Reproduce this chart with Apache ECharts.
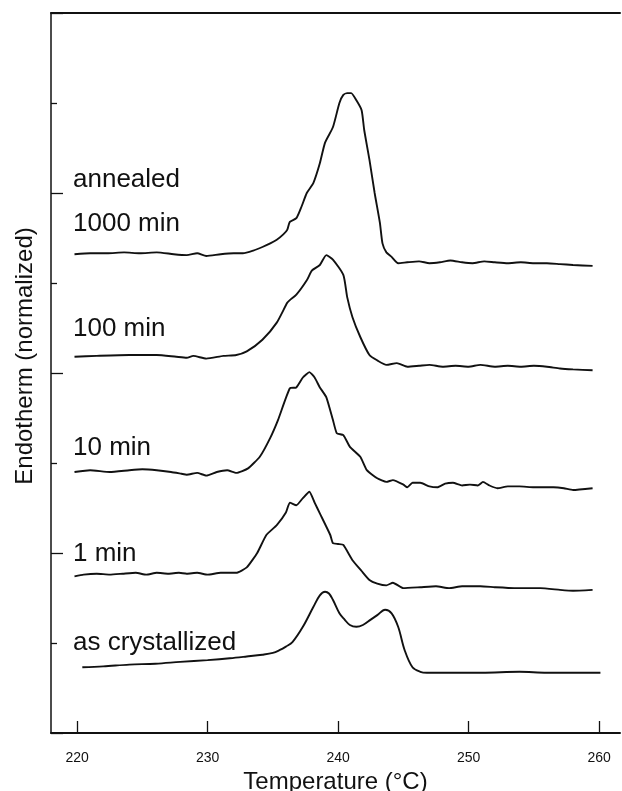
<!DOCTYPE html>
<html>
<head>
<meta charset="utf-8">
<script src="https://cdn.jsdelivr.net/npm/echarts@6/dist/echarts.min.js"></script>
<style>
  html, body { margin: 0; padding: 0; background: #fff; }
  #chart { width: 622px; height: 791px; }
</style>
</head>
<body>
<div id="chart"></div>
<script>
// [temperature (°C), endotherm (offset, normalized)]
var asCrystallized = [[220.4,0.73],[222.0,0.74],[224.0,0.76],[226.0,0.77],[227.9,0.79],[230.0,0.81],[231.7,0.83],[233.0,0.85],[234.2,0.87],[235.0,0.89],[235.5,0.92],[236.0,0.96],[236.5,1.01],[237.3,1.18],[238.1,1.40],[238.6,1.53],[239.0,1.57],[239.3,1.55],[239.6,1.48],[240.1,1.33],[240.5,1.26],[240.9,1.20],[241.4,1.18],[241.9,1.20],[242.5,1.26],[243.0,1.31],[243.6,1.37],[244.1,1.33],[244.6,1.18],[245.1,0.92],[245.7,0.73],[246.3,0.68],[246.8,0.67],[248.8,0.67],[251.0,0.67],[253.9,0.68],[256.0,0.67],[258.0,0.67],[260.1,0.67]]

var min1 = [[219.8,1.74],[220.5,1.76],[221.5,1.77],[222.5,1.76],[223.5,1.77],[224.5,1.78],[225.3,1.76],[226.1,1.78],[227.0,1.77],[227.8,1.78],[228.4,1.77],[229.2,1.78],[230.0,1.76],[231.0,1.78],[232.2,1.78],[233.0,1.84],[233.8,2.00],[234.5,2.20],[235.3,2.31],[236.0,2.45],[236.3,2.56],[236.8,2.53],[237.3,2.61],[237.8,2.68],[238.2,2.56],[238.6,2.44],[239.4,2.20],[239.6,2.11],[240.0,2.10],[240.4,2.09],[241.1,1.92],[241.8,1.80],[242.4,1.70],[243.0,1.66],[243.7,1.64],[244.2,1.67],[245.0,1.61],[246.3,1.62],[247.5,1.63],[248.5,1.61],[249.5,1.63],[250.9,1.63],[252.0,1.62],[253.5,1.61],[255.5,1.61],[257.0,1.59],[258.0,1.58],[259.5,1.59]]

var min10 = [[219.8,2.90],[221.0,2.92],[222.5,2.90],[224.0,2.92],[225.0,2.93],[226.1,2.92],[227.2,2.90],[228.0,2.88],[228.4,2.87],[229.2,2.89],[229.9,2.86],[230.7,2.90],[231.5,2.92],[232.2,2.89],[233.1,2.94],[234.0,3.07],[234.8,3.28],[235.4,3.48],[236.3,3.83],[236.8,3.84],[237.3,3.95],[237.8,4.01],[238.2,3.95],[238.6,3.84],[239.1,3.73],[239.6,3.48],[239.9,3.33],[240.4,3.31],[240.9,3.18],[241.7,3.07],[242.2,2.92],[243.0,2.83],[243.7,2.79],[244.2,2.81],[245.0,2.76],[245.3,2.73],[245.7,2.78],[246.3,2.78],[247.0,2.74],[247.6,2.73],[248.2,2.77],[248.8,2.78],[249.5,2.75],[250.1,2.76],[250.7,2.75],[251.1,2.79],[251.6,2.75],[252.2,2.72],[253.0,2.74],[253.9,2.74],[255.0,2.73],[256.5,2.73],[257.3,2.72],[258.0,2.70],[259.5,2.72]]

var min100 = [[219.8,4.18],[221.5,4.19],[224.0,4.20],[226.1,4.20],[227.6,4.18],[228.4,4.17],[228.9,4.19],[229.9,4.16],[231.2,4.19],[232.2,4.20],[233.0,4.24],[234.2,4.37],[235.3,4.56],[236.1,4.78],[236.3,4.81],[236.8,4.87],[237.6,5.03],[238.0,5.14],[238.6,5.20],[239.1,5.31],[239.6,5.26],[240.4,5.09],[240.7,4.84],[241.1,4.62],[241.7,4.40],[242.4,4.20],[243.0,4.14],[243.7,4.09],[244.5,4.11],[245.3,4.07],[246.2,4.08],[247.0,4.09],[248.0,4.07],[249.0,4.08],[250.0,4.07],[250.9,4.09],[252.0,4.07],[253.0,4.08],[254.0,4.07],[255.0,4.08],[256.0,4.07],[257.0,4.05],[258.0,4.04],[259.5,4.03]]

var min1000 = [[219.8,5.32],[221.0,5.33],[222.3,5.33],[223.6,5.34],[224.8,5.33],[226.1,5.34],[227.4,5.32],[228.4,5.31],[229.2,5.33],[229.9,5.30],[231.0,5.32],[232.0,5.33],[232.7,5.33],[233.5,5.36],[234.2,5.40],[234.8,5.44],[235.3,5.48],[235.8,5.54],[236.1,5.59],[236.3,5.68],[236.8,5.72],[237.2,5.85],[237.6,6.00],[238.1,6.11],[238.6,6.33],[239.0,6.56],[239.6,6.73],[240.1,7.00],[240.4,7.09],[240.7,7.11],[241.0,7.11],[241.4,7.03],[241.8,6.92],[242.0,6.70],[242.4,6.37],[242.8,6.00],[243.2,5.67],[243.4,5.44],[243.7,5.34],[244.1,5.29],[244.6,5.22],[245.3,5.23],[246.2,5.24],[247.0,5.22],[247.8,5.23],[248.6,5.25],[249.5,5.23],[250.3,5.22],[251.2,5.24],[252.0,5.23],[253.0,5.22],[254.0,5.23],[255.0,5.22],[256.0,5.22],[257.0,5.21],[258.0,5.20],[259.5,5.19]]

var xTicks = [220, 230, 240, 250, 260]
var curveLabels = ['annealed', '1000 min', '100 min', '10 min', '1 min', 'as crystallized']

var font = 'Liberation Sans, Arial, Helvetica, sans-serif'
var chart = echarts.init(document.getElementById('chart'))

function curve (data, smooth) {
  return {
    type: 'line',
    data: data,
    smooth: smooth,
    showSymbol: false,
    silent: true,
    lineStyle: { color: '#111', width: 1.9 },
    itemStyle: { color: '#111' }
  }
}

// label y positions (middle of text line), pixels
var labelY = [180, 224, 329, 448, 554, 643]

chart.setOption({
  animation: false,
  backgroundColor: '#fff',
  grid: { left: 51, right: 2, top: 13, bottom: 58, containLabel: false, outerBoundsMode: 'none' },
  xAxis: [
    {
      type: 'value',
      min: 218,
      max: 261.6,
      name: 'Temperature (°C)',
      nameLocation: 'middle',
      nameGap: 36,
      nameTextStyle: { color: '#111', fontSize: 24, fontFamily: font },
      axisLine: { show: true, lineStyle: { color: '#111', width: 2 } },
      axisTick: { show: true, inside: true, length: 12, lineStyle: { color: '#111', width: 1.3 }, customValues: xTicks },
      axisLabel: { color: '#111', fontSize: 14, fontFamily: font, margin: 18, customValues: xTicks },
      splitLine: { show: false }
    },
    {
      type: 'value',
      position: 'top',
      min: 218,
      max: 261.6,
      axisLine: { show: true, lineStyle: { color: '#111', width: 2 } },
      axisTick: { show: false },
      axisLabel: { show: false },
      splitLine: { show: false }
    }
  ],
  yAxis: {
    type: 'value',
    min: 0,
    max: 8,
    interval: 2,
    name: 'Endotherm (normalized)',
    nameLocation: 'middle',
    nameGap: 14,
    nameTextStyle: { color: '#111', fontSize: 24, fontFamily: font, padding: [0, 0, 0, 34] },
    axisLine: { show: true, lineStyle: { color: '#111', width: 1.5 } },
    axisTick: { show: true, inside: true, length: 12, lineStyle: { color: '#111', width: 1.3 } },
    minorTick: { show: true, splitNumber: 2, length: 6, lineStyle: { color: '#111', width: 1.3 } },
    axisLabel: { show: false },
    splitLine: { show: false },
    minorSplitLine: { show: false }
  },
  graphic: curveLabels.map(function (t, i) {
    return {
      type: 'text',
      left: 73,
      top: labelY[i] - 13,
      silent: true,
      style: { text: t, fill: '#111', font: '26px ' + font }
    }
  }),
  series: [curve(asCrystallized, 0.35), curve(min1, 0.15), curve(min10, 0.15), curve(min100, 0.2), curve(min1000, 0.2)]
})
</script>
</body>
</html>
